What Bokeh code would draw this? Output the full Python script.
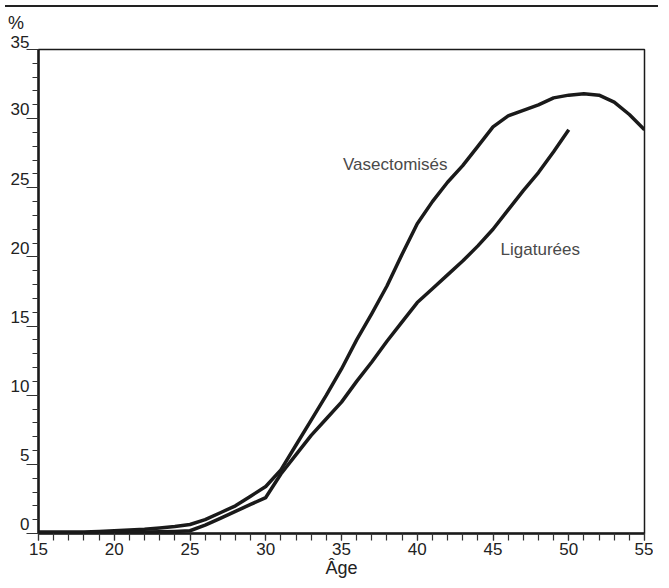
from bokeh.plotting import figure
from bokeh.models import SingleIntervalTicker, Div
from bokeh.layouts import column
from bokeh.core.properties import value
from bokeh.embed import file_html
from bokeh.resources import INLINE

# ---- data ----
ages_vasect = list(range(15, 56))
vasectomises = [0.1, 0.1, 0.1, 0.1, 0.15, 0.2, 0.25, 0.3, 0.4, 0.5,
                0.65, 1.0, 1.5, 2.0, 2.7, 3.4, 4.6, 6.4, 8.2, 10.0,
                11.9, 14.0, 15.9, 17.9, 20.2, 22.4, 24.0, 25.4, 26.6, 28.0,
                29.4, 30.2, 30.6, 31.0, 31.5, 31.7, 31.8, 31.7, 31.2, 30.3,
                29.2]
ages_ligat = list(range(15, 51))
ligaturees = [0.05, 0.05, 0.05, 0.05, 0.05, 0.08, 0.1, 0.1, 0.12, 0.15,
              0.2, 0.6, 1.1, 1.6, 2.1, 2.6, 4.3, 5.7, 7.1, 8.3,
              9.5, 11.0, 12.4, 13.9, 15.3, 16.7, 17.7, 18.7, 19.7, 20.8,
              22.0, 23.4, 24.8, 26.1, 27.6, 29.2]
y_tick_values = [0, 5, 10, 15, 20, 25, 30, 35]
series_names = ["Vasectomisés", "Ligaturées"]
name_x = [35.1, 45.5]
name_y = [26.65, 20.55]

FONT = "Liberation Sans"
INK = "#1a1a1a"

p = figure(width=653, height=550, x_range=(15, 55), y_range=(0, 35),
           output_backend="svg", toolbar_location=None,
           min_border_left=38, min_border_right=9,
           min_border_top=17, min_border_bottom=49)

p.grid.visible = False
p.outline_line_color = INK
p.outline_line_width = 1.5
p.background_fill_color = "white"
p.border_fill_color = "white"

# x axis
xa = p.xaxis[0]
xa.ticker = SingleIntervalTicker(interval=5, num_minor_ticks=5)
xa.axis_line_color = INK
xa.axis_line_width = 2.5
xa.major_tick_in = 0
xa.major_tick_out = 7
xa.minor_tick_in = 0
xa.minor_tick_out = 7
xa.major_tick_line_color = "#333333"
xa.minor_tick_line_color = "#333333"
xa.major_tick_line_width = 1.2
xa.minor_tick_line_width = 1.2
xa.major_label_text_font = FONT
xa.major_label_text_font_size = "17px"
xa.major_label_text_color = "#222222"
xa.major_label_standoff = 2
xa.axis_label = "Âge"
xa.axis_label_text_font = FONT
xa.axis_label_text_font_size = "18px"
xa.axis_label_text_font_style = "normal"
xa.axis_label_text_color = "#222222"
xa.axis_label_standoff = 0

# y axis: labels lifted above their ticks (second, empty line below them)
ya = p.yaxis[0]
ya.ticker = SingleIntervalTicker(interval=5, num_minor_ticks=5)
ya.axis_line_color = INK
ya.axis_line_width = 2.5
ya.major_tick_in = 0
ya.major_tick_out = 12
ya.minor_tick_in = 0
ya.minor_tick_out = 6
ya.major_tick_line_color = "#333333"
ya.minor_tick_line_color = "#333333"
ya.major_tick_line_width = 1.2
ya.minor_tick_line_width = 1.2
ya.major_label_text_font = FONT
ya.major_label_text_font_size = "17px"
ya.major_label_text_color = "#222222"
ya.major_label_text_line_height = 0.92
ya.major_label_standoff = -3
ya.major_label_overrides = {v: f"{v}\n" for v in y_tick_values}

# curves
p.line(ages_vasect, vasectomises, line_color=INK, line_width=3.5,
       line_join="round")
p.line(ages_ligat, ligaturees, line_color=INK, line_width=3.5,
       line_join="round")

# series names
p.text(x=name_x, y=name_y, text=series_names, text_font=value(FONT),
       text_font_size="17px", text_color="#4a4a4a",
       text_align="left", text_baseline="alphabetic")

rule = Div(width=653, height=2,
           styles={"border-top": "2px solid #222222",
                   "box-sizing": "border-box"})
percent = Div(text="%", width=100, height=18, margin=(2, 0, 0, 4),
              styles={"font-size": "18px", "line-height": "18px",
                      "font-family": FONT, "color": "#222222",
                      "text-indent": "4px"})

layout = column(rule, percent, p, spacing=0)
open("out.html", "w").write(file_html(layout, INLINE))
